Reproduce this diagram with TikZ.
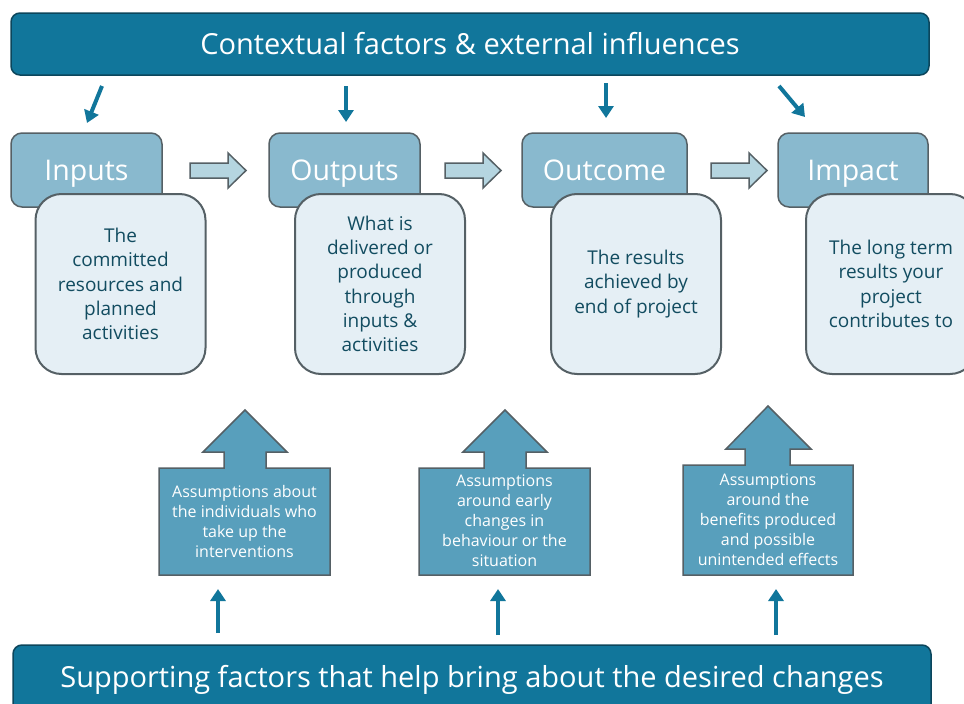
\documentclass[tikz,border=0pt]{standalone}
\usepackage{fontspec}
\setmainfont{Open Sans}
\usetikzlibrary{arrows.meta}

\definecolor{azul}{RGB}{17,118,155}
\definecolor{azulborde}{RGB}{12,70,92}
\definecolor{cabfondo}{RGB}{137,185,206}
\definecolor{detfondo}{RGB}{229,239,245}
\definecolor{dettexto}{RGB}{18,76,96}
\definecolor{supfondo}{RGB}{88,159,188}
\definecolor{claro}{RGB}{181,213,224}
\definecolor{gris}{RGB}{85,96,101}

\tikzset{
  banda/.style={draw=azulborde, line width=1.5pt, fill=azul, rounded corners=9pt,
    text=white, minimum width=918pt, font=\fontsize{29}{33}\selectfont},
  cabecera/.style={draw=gris, line width=1.5pt, fill=cabfondo, rounded corners=11pt,
    text=white, minimum height=74pt, text height=20pt, text depth=0pt,
    font=\fontsize{28.5}{32}\selectfont},
  detalle/.style={draw=gris, line width=2pt, fill=detfondo, rounded corners=26pt,
    text=dettexto, minimum width=170pt, minimum height=180pt, align=center,
    font=\fontsize{19}{24.3}\selectfont},
  flechita/.style={draw=azul, line width=4pt, -{Triangle[length=12pt, width=15pt]}},
  flechabloque/.style={draw=gris, line width=1.5pt, fill=claro},
  supuesto/.style={draw=gris, line width=1.5pt, fill=supfondo},
  suptexto/.style={text=white, align=center, font=\fontsize{16}{20}\selectfont}
}

\begin{document}
\begin{tikzpicture}[x=1pt, y=-1pt]
  \useasboundingbox (0,0) rectangle (964,704);
  \clip (0,0) rectangle (964,704);

  % Bandas arriba y abajo
  \node[banda, minimum height=62pt] (contexto) at (470,44) {Contextual factors \& external influences};
  \node[banda, minimum height=70pt] (apoyo) at (472,680) {Supporting factors that help bring about the desired changes};

  % Flechas desde la banda de arriba
  \coordinate (a1) at (102,86);  \coordinate (b1) at (87,123);
  \coordinate (a2) at (346,86);  \coordinate (b2) at (346,122);
  \coordinate (a3) at (606,83);  \coordinate (b3) at (606,118);
  \coordinate (a4) at (779,86);  \coordinate (b4) at (805,117);
  \foreach \i in {1,...,4}
    \draw[flechita] (a\i) -- (b\i);

  % Cabeceras
  \node[cabecera, minimum width=151pt] (inputs) at (86.5,170) {Inputs};
  \node[cabecera, minimum width=151pt] (outputs) at (344.5,170) {Outputs};
  \node[cabecera, minimum width=165pt] (outcome) at (604.5,170) {Outcome};
  \node[cabecera, minimum width=150pt] (impact) at (853,170) {Impact};

  % Cajas de texto
  \node[detalle] (inputsdet) at (120.5,284) {The\\committed\\resources and\\planned\\activities};
  \node[detalle] (outputsdet) at (380,284) {What is\\delivered or\\produced\\through\\inputs \&\\activities};
  \node[detalle] (outcomedet) at (636,284) {The results\\achieved by\\end of project};
  \node[detalle] (impactdet) at (891,284) {The long term\\results your\\project\\contributes to};

  % Flechas entre cabeceras
  \foreach \x in {190,445,711}
    \draw[flechabloque] (\x,163) -- ++(38,0) -- ++(0,-10) -- ++(18,17.5) -- ++(-18,17.5)
      -- ++(0,-10) -- ++(-38,0) -- cycle;

  % Supuestos
  \draw[supuesto] (159,468) -- (224,468) -- (224,452) -- (203,452) -- (245,410) -- (287,452)
    -- (266,452) -- (266,468) -- (330,468) -- (330,575) -- (159,575) -- cycle;
  \draw[supuesto] (419,468) -- (484,468) -- (484,452) -- (463,452) -- (505,410) -- (547,452)
    -- (526,452) -- (526,468) -- (590,468) -- (590,575) -- (419,575) -- cycle;
  \draw[supuesto] (683,465) -- (745,465) -- (745,449) -- (726,449) -- (768,406) -- (811,449)
    -- (790,449) -- (790,465) -- (853,465) -- (853,575) -- (683,575) -- cycle;
  \node[suptexto] (sup1) at (244.5,521) {Assumptions about\\the individuals who\\take up the\\interventions};
  \node[suptexto] (sup2) at (504.5,521) {Assumptions\\around early\\changes in\\behaviour or the\\situation};
  \node[suptexto] (sup3) at (768,520) {Assumptions\\around the\\benefits produced\\and possible\\unintended effects};

  % Flechas desde la banda de abajo
  \coordinate (c1) at (218,633);  \coordinate (d1) at (218,589);
  \coordinate (c2) at (498,635);  \coordinate (d2) at (498,589);
  \coordinate (c3) at (776,635);  \coordinate (d3) at (776,589);
  \foreach \i in {1,2,3}
    \draw[flechita] (c\i) -- (d\i);
\end{tikzpicture}
\end{document}
